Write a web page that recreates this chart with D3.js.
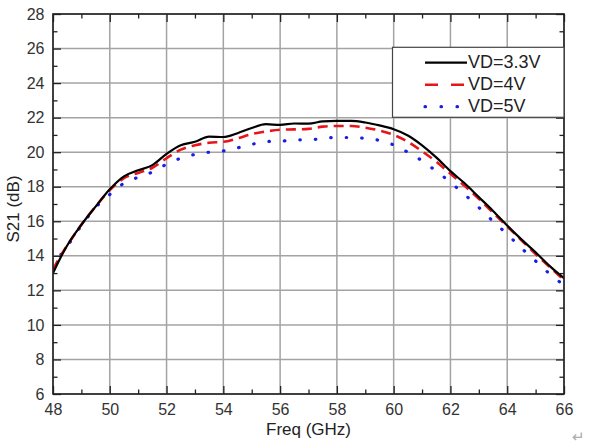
<!DOCTYPE html>
<html><head><meta charset="utf-8">
<script src="https://cdn.jsdelivr.net/npm/d3@7"></script>
<style>
html,body{margin:0;padding:0;background:#fff;}
svg{display:block;font-family:"Liberation Sans",Arial,sans-serif;}
</style></head>
<body>
<svg id="chart" width="589" height="445"></svg>
<script>
const freq = [48,48.25,48.5,49,49.5,50,50.5,51,51.5,52,52.5,53,53.5,54,54.5,55,55.5,56,56.5,57,57.5,58,58.5,59,59.5,60,60.5,61,61.5,62,62.5,63,63.5,64,64.5,65,65.5,66];
const vd33 = [13.0,13.85,14.6,15.8,16.85,17.85,18.6,18.95,19.25,19.9,20.4,20.6,20.9,20.88,21.1,21.4,21.62,21.58,21.66,21.65,21.78,21.81,21.81,21.72,21.55,21.33,20.97,20.4,19.7,18.9,18.2,17.4,16.6,15.75,14.95,14.2,13.4,12.7];
const vd4  = [13.2,13.95,14.6,15.8,16.85,17.8,18.5,18.8,19.1,19.65,20.15,20.4,20.55,20.6,20.8,21.05,21.2,21.3,21.32,21.35,21.48,21.52,21.52,21.42,21.25,21.0,20.6,20.05,19.45,18.75,18.05,17.3,16.5,15.7,14.9,14.1,13.35,12.6];
const vd5  = [13.3,14.0,14.55,15.75,16.8,17.55,18.2,18.55,18.85,19.3,19.65,19.87,20.0,20.07,20.25,20.45,20.62,20.63,20.72,20.71,20.8,20.85,20.85,20.8,20.68,20.42,20.0,19.5,18.9,18.25,17.55,16.8,16.0,15.25,14.45,13.7,12.95,12.3];
const seriesNames = ["VD=3.3V","VD=4V","VD=5V"];
const xTicks = [48,50,52,54,56,58,60,62,64,66];
const yTicks = [6,8,10,12,14,16,18,20,22,24,26,28];
const xMinor = [49,51,53,55,57,59,61,63,65];
const yMinor = [7,9,11,13,15,17,19,21,23,25,27];
const xTitle = "Freq (GHz)";
const yTitle = "S21 (dB)";

const svg = d3.select("#chart");
const L = 53, T = 14, W = 511, H = 380;
const x = d3.scaleLinear().domain([48,66]).range([L, L+W]);
const y = d3.scaleLinear().domain([6,28]).range([T+H, T]);

const g = svg.append("g");
// grid
g.selectAll(".gx").data(xTicks).join("line")
  .attr("x1", d=>x(d)).attr("x2", d=>x(d)).attr("y1", T).attr("y2", T+H)
  .attr("stroke","#a3a3a3").attr("stroke-width",1.5);
g.selectAll(".gy").data(yTicks).join("line")
  .attr("y1", d=>y(d)).attr("y2", d=>y(d)).attr("x1", L).attr("x2", L+W)
  .attr("stroke","#a3a3a3").attr("stroke-width",1.5);

// axes with inward ticks
const axCol = "#222";
function styleAxis(sel){
  sel.select(".domain").remove();
  sel.attr("font-family","Liberation Sans, Arial, sans-serif");
  sel.selectAll(".tick line").attr("stroke",axCol).attr("stroke-width",1.3);
}
const fmt = d3.format("d");
svg.append("g").attr("transform",`translate(0,${T+H})`)
  .call(d3.axisBottom(x).tickValues(xTicks).tickSize(-8).tickPadding(9.5).tickFormat(fmt))
  .call(styleAxis).call(s=>s.selectAll("text").attr("font-size",16).attr("fill","#333"));
svg.append("g").attr("transform",`translate(0,${T+H})`)
  .call(d3.axisBottom(x).tickValues(xMinor).tickSize(-4.5).tickFormat(""))
  .call(styleAxis);
svg.append("g").attr("transform",`translate(0,${T})`)
  .call(d3.axisTop(x).tickValues(xTicks).tickSize(-8).tickFormat(""))
  .call(styleAxis);
svg.append("g").attr("transform",`translate(0,${T})`)
  .call(d3.axisTop(x).tickValues(xMinor).tickSize(-4.5).tickFormat(""))
  .call(styleAxis);
svg.append("g").attr("transform",`translate(${L},0)`)
  .call(d3.axisLeft(y).tickValues(yTicks).tickSize(-8).tickPadding(8.5).tickFormat(fmt))
  .call(styleAxis).call(s=>s.selectAll("text").attr("font-size",16).attr("fill","#333"));
svg.append("g").attr("transform",`translate(${L},0)`)
  .call(d3.axisLeft(y).tickValues(yMinor).tickSize(-4.5).tickFormat(""))
  .call(styleAxis);
svg.append("g").attr("transform",`translate(${L+W},0)`)
  .call(d3.axisRight(y).tickValues(yTicks).tickSize(-8).tickFormat(""))
  .call(styleAxis);
svg.append("g").attr("transform",`translate(${L+W},0)`)
  .call(d3.axisRight(y).tickValues(yMinor).tickSize(-4.5).tickFormat(""))
  .call(styleAxis);

// curves
svg.append("clipPath").attr("id","pc").append("rect")
  .attr("x",L).attr("y",T).attr("width",W).attr("height",H);
const line = d3.line().x(d=>x(d[0])).y(d=>y(d[1])).curve(d3.curveMonotoneX);
const styles = [
  {color:"#000000", width:2.2, dash:null, cap:"butt"},
  {color:"#e8141b", width:2.6, dash:"10,6", cap:"butt"},
  {color:"#1c1ce6", width:3.2, dash:"0.5,15", cap:"round"}
];
const data = [vd33, vd4, vd5];
const curves = svg.append("g").attr("clip-path","url(#pc)");
[2,1,0].forEach(i=>{
  curves.append("path").datum(freq.map((f,k)=>[f,data[i][k]]))
    .attr("d",line).attr("fill","none")
    .attr("stroke",styles[i].color).attr("stroke-width",styles[i].width)
    .attr("stroke-dasharray",styles[i].dash).attr("stroke-linecap",styles[i].cap)
    .attr("stroke-linejoin","round");
});

// frame
svg.append("rect").attr("x",L).attr("y",T).attr("width",W).attr("height",H)
  .attr("fill","none").attr("stroke",axCol).attr("stroke-width",1.6);

// legend
const lg = svg.append("g");
lg.append("rect").attr("x",392.5).attr("y",47.3).attr("width",L+W-392.5).attr("height",70)
  .attr("fill","#fff").attr("stroke","#444").attr("stroke-width",1.2);
const legDash = [null,"13,13","0.5,15.5"];
seriesNames.forEach((name,i)=>{
  const ly = 62.7 + i*22;
  lg.append("line").attr("x1",425).attr("x2",467).attr("y1",ly).attr("y2",ly)
    .attr("stroke",styles[i].color).attr("stroke-width",styles[i].width)
    .attr("stroke-dasharray",legDash[i]).attr("stroke-linecap",styles[i].cap);
  lg.append("text").attr("x",468).attr("y",ly+5.5)
    .attr("font-size",18).attr("fill","#222").text(name);
});

// titles
svg.append("text").attr("x",L+W/2).attr("y",435).attr("text-anchor","middle")
  .attr("font-size",17).attr("fill","#222").text(xTitle);
svg.append("text").attr("transform","translate(18.5,209) rotate(-90)").attr("text-anchor","middle")
  .attr("font-size",17).attr("fill","#222").text(yTitle);
svg.append("text").attr("x",572).attr("y",442).attr("font-size",15).attr("fill","#aaa").text("↵");
</script>
</body></html>
